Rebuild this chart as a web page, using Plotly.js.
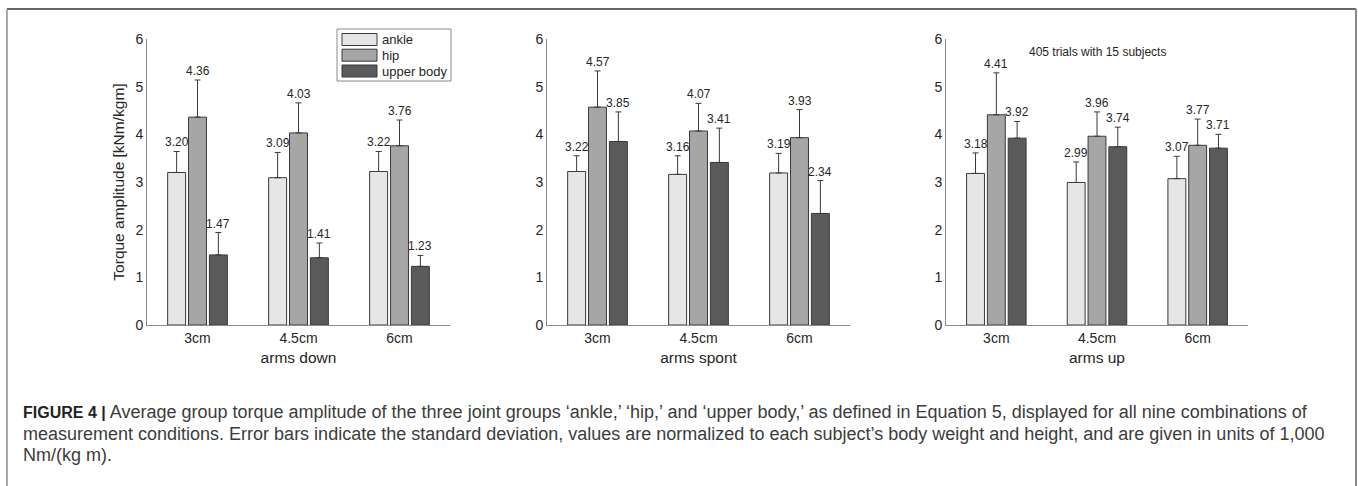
<!DOCTYPE html>
<html><head><meta charset="utf-8">
<script src="https://cdn.plot.ly/plotly-3.0.1.min.js"></script>
<style>html,body{margin:0;padding:0;background:#fff}#chart{width:1358px;height:486px}</style>
</head><body><div id="chart"></div>
<script>
// ---- data ----
const categories = ['3cm', '4.5cm', '6cm'];
const panelTitles = ['arms down', 'arms spont', 'arms up'];
const seriesNames = ['ankle', 'hip', 'upper body'];
const seriesColors = ['#e6e6e6', '#a6a6a6', '#5a5a5a'];

const armsDownAnkle = [3.20, 3.09, 3.22];
const armsDownHip = [4.36, 4.03, 3.76];
const armsDownUpper = [1.47, 1.41, 1.23];
const armsDownAnkleSD = [0.44, 0.53, 0.42];
const armsDownHipSD = [0.78, 0.63, 0.54];
const armsDownUpperSD = [0.47, 0.31, 0.23];

const armsSpontAnkle = [3.22, 3.16, 3.19];
const armsSpontHip = [4.57, 4.07, 3.93];
const armsSpontUpper = [3.85, 3.41, 2.34];
const armsSpontAnkleSD = [0.33, 0.39, 0.41];
const armsSpontHipSD = [0.76, 0.58, 0.59];
const armsSpontUpperSD = [0.62, 0.72, 0.69];

const armsUpAnkle = [3.18, 2.99, 3.07];
const armsUpHip = [4.41, 3.96, 3.77];
const armsUpUpper = [3.92, 3.74, 3.71];
const armsUpAnkleSD = [0.43, 0.43, 0.47];
const armsUpHipSD = [0.88, 0.51, 0.55];
const armsUpUpperSD = [0.35, 0.41, 0.29];

const yTickVals = [0, 1, 2, 3, 4, 5, 6];
const yTitle = 'Torque amplitude [kNm/kgm]';
const noteText = '405 trials with 15 subjects';
const captionBold = 'FIGURE 4 |';
const captionLines = [
  ' Average group torque amplitude of the three joint groups \u2018ankle,\u2019 \u2018hip,\u2019 and \u2018upper body,\u2019 as defined in Equation 5, displayed for all nine combinations of',
  'measurement conditions. Error bars indicate the standard deviation, values are normalized to each subject\u2019s body weight and height, and are given in units of 1,000',
  'Nm/(kg m).'
];

// ---- build ----
const W = 1358, H = 486;
const px = v => v / W;
const py = v => 1 - v / H;
const FONT = 'Liberation Sans, Arial, sans-serif';
const TXT = '#262626';

const means = [
  [armsDownAnkle, armsDownHip, armsDownUpper],
  [armsSpontAnkle, armsSpontHip, armsSpontUpper],
  [armsUpAnkle, armsUpHip, armsUpUpper]
];
const sds = [
  [armsDownAnkleSD, armsDownHipSD, armsDownUpperSD],
  [armsSpontAnkleSD, armsSpontHipSD, armsSpontUpperSD],
  [armsUpAnkleSD, armsUpHipSD, armsUpUpperSD]
];
const axSuffix = ['', '2', '3'];
const bargap = 0.38;
const slot = (1 - bargap) / seriesNames.length;

const traces = [];
const annotations = [];
panelTitles.forEach((pt, pi) => {
  seriesNames.forEach((sn, si) => {
    traces.push({
      type: 'bar',
      x: categories,
      y: means[pi][si],
      name: sn,
      showlegend: false,
      xaxis: 'x' + axSuffix[pi],
      yaxis: 'y' + axSuffix[pi],
      marker: {color: seriesColors[si], line: {color: '#3a3a3a', width: 1}},
      error_y: {type: 'data', symmetric: false, array: sds[pi][si],
                arrayminus: sds[pi][si].map(() => 0),
                color: '#3a3a3a', thickness: 1, width: 3},
      hoverinfo: 'skip'
    });
    means[pi][si].forEach((v, ci) => {
      annotations.push({
        xref: 'x' + axSuffix[pi], yref: 'y' + axSuffix[pi],
        x: ci + (si - 1) * slot, y: v + sds[pi][si][ci],
        text: v.toFixed(2), showarrow: false,
        xanchor: 'center', yanchor: 'bottom', yshift: 0,
        font: {family: FONT, size: 12, color: TXT}
      });
    });
  });
});

annotations.push({
  xref: 'x3', yref: 'y3', x: 1, y: 5.73, text: noteText, showarrow: false,
  xanchor: 'center', yanchor: 'middle', font: {family: FONT, size: 12, color: TXT}
});

// legend (custom)
const shapes = [];
const legX0 = 337, legX1 = 451, legY0 = 29, legY1 = 81;
shapes.push({type: 'rect', xref: 'paper', yref: 'paper', x0: px(legX0), x1: px(legX1), y0: py(legY1), y1: py(legY0),
  line: {color: '#8a8a8a', width: 1}, fillcolor: '#ffffff', layer: 'above'});
const rowY = [39.5, 55.2, 71];
seriesNames.forEach((sn, si) => {
  shapes.push({type: 'rect', xref: 'paper', yref: 'paper', x0: px(342), x1: px(377),
    y0: py(rowY[si] + 6), y1: py(rowY[si] - 6),
    line: {color: '#3a3a3a', width: 1}, fillcolor: seriesColors[si], layer: 'above'});
  annotations.push({xref: 'paper', yref: 'paper', x: px(380), y: py(rowY[si]), text: sn,
    showarrow: false, xanchor: 'left', yanchor: 'middle', font: {family: FONT, size: 13, color: TXT}});
});

// frame
shapes.push({type: 'line', xref: 'paper', yref: 'paper', x0: px(7), x1: px(1356), y0: py(9), y1: py(9), line: {color: '#333333', width: 1.5}});
shapes.push({type: 'line', xref: 'paper', yref: 'paper', x0: px(7), x1: px(7), y0: py(9), y1: 0, line: {color: '#8c8c8c', width: 1.5}});
shapes.push({type: 'line', xref: 'paper', yref: 'paper', x0: px(1356), x1: px(1356), y0: py(9), y1: 0, line: {color: '#8c8c8c', width: 2}});

// caption
const capY = [412, 434, 455];
captionLines.forEach((t, i) => {
  const txt = i === 0 ? '<span style="font-size:16px;color:#222222"><b>' + captionBold + '</b></span>' + t : t;
  annotations.push({xref: 'paper', yref: 'paper', x: px(21), y: py(capY[i]), text: txt, showarrow: false,
    xanchor: 'left', yanchor: 'middle', align: 'left', font: {family: FONT, size: 18, color: '#3c3c3c'}});
});

const domains = [[147, 450], [547, 850], [946, 1248]];
const layout = {
  width: W, height: H,
  margin: {l: 0, r: 0, t: 0, b: 0},
  paper_bgcolor: '#ffffff', plot_bgcolor: '#ffffff',
  barmode: 'group', bargap: bargap, bargroupgap: 0.14,
  showlegend: false,
  annotations: annotations,
  shapes: shapes,
  font: {family: FONT, color: TXT}
};
domains.forEach((d, i) => {
  const s = axSuffix[i];
  layout['xaxis' + s] = {
    domain: [px(d[0]), px(d[1])], anchor: 'y' + s, type: 'category',
    categoryorder: 'array', categoryarray: categories,
    range: [-0.5, 2.5], showline: true, linecolor: '#8c8c8c', linewidth: 1,
    showgrid: false, zeroline: false, ticks: '', fixedrange: true,
    tickfont: {family: FONT, size: 14, color: TXT},
    title: {text: panelTitles[i], font: {family: FONT, size: 15.5, color: TXT}, standoff: 7}
  };
  layout['yaxis' + s] = {
    domain: [py(325), py(39)], anchor: 'x' + s, range: [0, 6],
    tickvals: yTickVals, showline: true, linecolor: '#8c8c8c', linewidth: 1,
    showgrid: false, zeroline: false, ticks: '', fixedrange: true,
    tickfont: {family: FONT, size: 14, color: TXT},
    title: i === 0 ? {text: yTitle, font: {family: FONT, size: 15.5, color: TXT}, standoff: 6} : {text: ''}
  };
});

Plotly.newPlot('chart', traces, layout, {displayModeBar: false, staticPlot: true});
</script>
</body></html>
